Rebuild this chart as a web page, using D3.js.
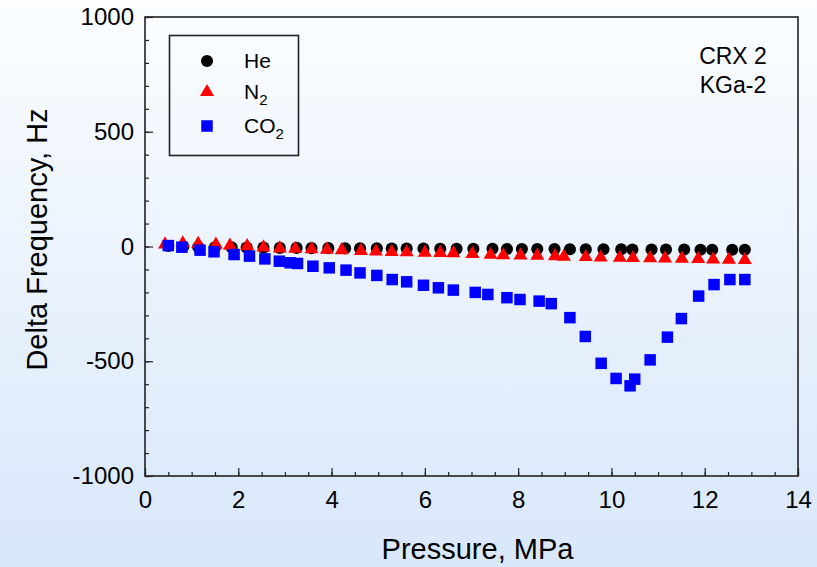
<!DOCTYPE html>
<html>
<head>
<meta charset="utf-8">
<script src="https://cdn.jsdelivr.net/npm/d3@7"></script>
<style>
    html, body { margin: 0; padding: 0; }
    svg { display: block; font-family: "Liberation Sans", Arial, sans-serif; }
</style>
</head>
<body>
<svg id="chart" width="817" height="567"></svg>
<script>
// Pressure (MPa) and delta frequency (Hz) for each gas
var hePressure = [0.50, 0.82, 1.14, 1.50, 1.86, 2.18, 2.54, 2.89, 3.25, 3.57, 3.93, 4.29, 4.61, 4.97, 5.29, 5.61, 5.97, 6.33, 6.68, 7.04,
    7.45, 7.76, 8.08, 8.41, 8.78, 9.11, 9.45, 9.83, 10.21, 10.45, 10.86, 11.17, 11.56, 11.91, 12.16, 12.59, 12.86];
var heFreq = [2, 0, -2, -3, -4, -5, -5, -6, -6, -7, -7, -8, -8, -8, -9, -9, -9, -10, -10, -10,
    -10, -11, -11, -11, -11, -12, -12, -12, -12, -13, -13, -13, -13, -14, -14, -14, -14];

var n2Pressure = [0.43, 0.81, 1.14, 1.52, 1.82, 2.19, 2.54, 2.89, 3.22, 3.57, 3.90, 4.22, 4.63, 4.95, 5.29, 5.61, 6.00, 6.33, 6.61, 7.02,
    7.41, 7.68, 8.05, 8.41, 8.79, 8.98, 9.45, 9.77, 10.18, 10.46, 10.83, 11.15, 11.51, 11.86, 12.18, 12.52, 12.86];
var n2Freq = [9, 14, 12, 8, 4, 2, -4, -8, -10, -12, -14, -16, -19, -22, -24, -25, -27, -28, -29, -32,
    -36, -38, -39, -40, -42, -44, -46, -48, -49, -50, -51, -52, -53, -54, -56, -57, -59];

var co2Pressure = [0.50, 0.79, 1.18, 1.48, 1.91, 2.24, 2.57, 2.88, 3.11, 3.27, 3.60, 3.95, 4.31, 4.61, 4.97, 5.30, 5.61, 5.97, 6.29, 6.61,
    7.08, 7.35, 7.76, 8.04, 8.45, 8.71, 9.11, 9.44, 9.78, 10.10, 10.40, 10.50, 10.83, 11.20, 11.50, 11.87, 12.20, 12.54, 12.86];
var co2Freq = [4, -3, -16, -23, -35, -42, -54, -64, -71, -74, -86, -93, -103, -115, -126, -144, -154, -169, -180, -190,
    -200, -209, -223, -231, -238, -249, -310, -392, -509, -575, -607, -578, -494, -395, -314, -216, -166, -144, -144];

var xTicks = [0, 2, 4, 6, 8, 10, 12, 14];
var yTicks = [-1000, -500, 0, 500, 1000];
var legendLabels = [['He', ''], ['N', '2'], ['CO', '2']];
var noteLines = ['CRX 2', 'KGa-2'];

var w = 817, h = 567;
var margin = {left: 145, right: 19, top: 17, bottom: 91};

var svg = d3.select('svg#chart');

// background gradient
var grad = svg.append('defs')
    .append('linearGradient')
    .attr('id', 'bg')
    .attr('x1', 0).attr('y1', 0)
    .attr('x2', 0).attr('y2', 1);
grad.append('stop').attr('offset', '0%').attr('stop-color', '#fbfdff');
grad.append('stop').attr('offset', '100%').attr('stop-color', '#d8e7fa');

svg.append('rect')
    .attr('width', w)
    .attr('height', h)
    .attr('fill', 'url(#bg)');

var x = d3.scaleLinear()
    .domain([0, 14])
    .range([margin.left, w - margin.right]);

var y = d3.scaleLinear()
    .domain([-1000, 1000])
    .range([h - margin.bottom, margin.top]);

// axes with ticks pointing inwards
function styleAxis(g) {
    g.select('.domain').remove();
    g.selectAll('line').attr('stroke', '#222').attr('stroke-width', 1.2);
    g.selectAll('text')
        .attr('fill', '#000')
        .style('font-size', '24px');
}

svg.append('g')
    .attr('transform', 'translate(0,' + y(-1000) + ')')
    .call(d3.axisBottom(x).tickValues(d3.range(0, 14.01, 0.5)).tickSize(-4).tickFormat(''))
    .call(styleAxis);

svg.append('g')
    .attr('transform', 'translate(0,' + y(-1000) + ')')
    .call(d3.axisBottom(x).tickValues(xTicks).tickSize(-8).tickPadding(15).tickFormat(d3.format('d')))
    .call(styleAxis);

svg.append('g')
    .attr('transform', 'translate(' + x(0) + ',0)')
    .call(d3.axisLeft(y).tickValues(d3.range(-1000, 1001, 100)).tickSize(-4).tickFormat(''))
    .call(styleAxis);

svg.append('g')
    .attr('transform', 'translate(' + x(0) + ',0)')
    .call(d3.axisLeft(y).tickValues(yTicks).tickSize(-8).tickPadding(11).tickFormat(function(d) {
        return d < 0 ? '-' + Math.abs(d) : d;
    }))
    .call(styleAxis);

// frame
svg.append('rect')
    .attr('x', x(0))
    .attr('y', y(1000))
    .attr('width', x(14) - x(0))
    .attr('height', y(-1000) - y(1000))
    .attr('fill', 'none')
    .attr('stroke', '#222')
    .attr('stroke-width', 1.6);

// axis titles
svg.append('text')
    .attr('x', (x(0) + x(14)) / 2 + 6)
    .attr('y', 559)
    .attr('text-anchor', 'middle')
    .attr('fill', '#000')
    .style('font-size', '29px')
    .text('Pressure, MPa');

svg.append('text')
    .attr('transform', 'translate(47,' + (y(0) - 7) + ')rotate(-90)')
    .attr('text-anchor', 'middle')
    .attr('fill', '#000')
    .style('font-size', '29px')
    .text('Delta Frequency, Hz');

// series
function pts(px, py) {
    return px.map(function(d, i) {
        return {x: d, y: py[i]};
    });
}

var series = [
    {data: pts(hePressure, heFreq), sym: d3.symbolCircle, size: 115, color: '#000000'},
    {data: pts(n2Pressure, n2Freq), sym: d3.symbolTriangle, size: 85, color: '#ff0000'},
    {data: pts(co2Pressure, co2Freq), sym: d3.symbolSquare, size: 132, color: '#0000ff'}
];

series.forEach(function(s) {
    svg.append('g')
        .selectAll('path')
        .data(s.data)
        .join('path')
        .attr('transform', function(d) {
            return 'translate(' + x(d.x) + ',' + y(d.y) + ')';
        })
        .attr('d', d3.symbol().type(s.sym).size(s.size))
        .attr('fill', s.color);
});

// legend
var legend = svg.append('g');
legend.append('rect')
    .attr('x', 169.5)
    .attr('y', 35.5)
    .attr('width', 129)
    .attr('height', 120)
    .attr('fill', 'none')
    .attr('stroke', '#222')
    .attr('stroke-width', 1.6);

var rowY = [61, 92, 126];
legendLabels.forEach(function(lab, i) {
    var s = series[i];
    legend.append('path')
        .attr('transform', 'translate(207,' + rowY[i] + ')')
        .attr('d', d3.symbol().type(s.sym).size(s.size))
        .attr('fill', s.color);
    var t = legend.append('text')
        .attr('x', 244)
        .attr('y', rowY[i] + 7)
        .attr('fill', '#000')
        .style('font-size', '21px')
        .text(lab[0]);
    if(lab[1]) {
        t.append('tspan')
            .attr('dy', 6)
            .style('font-size', '15px')
            .text(lab[1]);
    }
});

// annotation
svg.append('g')
    .selectAll('text')
    .data(noteLines)
    .join('text')
    .attr('x', 733)
    .attr('y', function(d, i) { return 64 + i * 29; })
    .attr('text-anchor', 'middle')
    .attr('fill', '#000')
    .style('font-size', '23px')
    .text(function(d) { return d; });
</script>
</body>
</html>
